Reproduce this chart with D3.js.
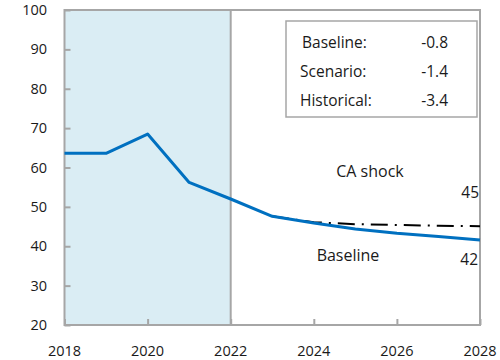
<!DOCTYPE html>
<html>
<head>
<meta charset="utf-8">
<script src="https://cdn.jsdelivr.net/npm/d3@7"></script>
<style>
  html, body { margin: 0; padding: 0; background: #fff; }
  svg { display: block; font-family: "Open Sans", "Noto Sans", sans-serif; }
</style>
</head>
<body>
<svg id="chart" width="500" height="360"></svg>
<script>
// Debt path: history through 2022, baseline projection after
const years = [2018, 2019, 2020, 2021, 2022, 2023, 2024, 2025, 2026, 2027, 2028];
const baseline = [63.6, 63.6, 68.5, 56.2, 52.0, 47.6, 45.9, 44.4, 43.3, 42.5, 41.6];
// Current-account shock scenario (projection years only)
const scenarioYears = [2023, 2024, 2025, 2026, 2027, 2028];
const scenario = [47.6, 46.1, 45.6, 45.4, 45.2, 45.1];
const yTicks = [20, 30, 40, 50, 60, 70, 80, 90, 100];
const xTicks = [2018, 2020, 2022, 2024, 2026, 2028];
const historyEnd = 2022;
const legendLabels = ["Baseline:", "Scenario:", "Historical:"];
const legendValues = ["-0.8", "-1.4", "-3.4"];

const svg = d3.select("#chart");
const m = { left: 64.5, right: 480, top: 10, bottom: 325 };

const x = d3.scaleLinear().domain([2018, 2028]).range([m.left, m.right]);
const y = d3.scaleLinear().domain([20, 100]).range([m.bottom, m.top]);

const grey = "#a6a6a6";
const ink = "#1a1a1a";

// Shaded historical period
svg.append("rect")
  .attr("x", x(2018)).attr("y", y(100))
  .attr("width", x(historyEnd) - x(2018))
  .attr("height", y(20) - y(100))
  .attr("fill", "#daedf4");

// Y axis: ticks pointing into the plot
const yAxis = d3.axisRight(y).tickValues(yTicks).tickSize(6).tickFormat("");
const gy = svg.append("g").attr("transform", `translate(${x(2018)},0)`).call(yAxis);
gy.selectAll("line").attr("stroke", grey).attr("stroke-width", 2);
gy.select(".domain").remove();

// X axis: ticks pointing up
const xAxis = d3.axisTop(x).tickValues(xTicks).tickSize(6).tickFormat("");
const gx = svg.append("g").attr("transform", `translate(0,${y(20)})`).call(xAxis);
gx.selectAll("line").attr("stroke", grey).attr("stroke-width", 2);
gx.select(".domain").remove();

// Frame: outer box plus the history divider
svg.append("rect")
  .attr("x", x(2018)).attr("y", y(100))
  .attr("width", x(2028) - x(2018)).attr("height", y(20) - y(100))
  .attr("fill", "none").attr("stroke", grey).attr("stroke-width", 2);
svg.append("line")
  .attr("x1", x(historyEnd)).attr("x2", x(historyEnd))
  .attr("y1", y(100)).attr("y2", y(20))
  .attr("stroke", grey).attr("stroke-width", 2);

// Tick labels
svg.append("g").selectAll("text").data(yTicks).join("text")
  .attr("x", 47).attr("y", d => y(d) + 5)
  .attr("text-anchor", "end")
  .attr("font-size", 14.5).attr("fill", ink)
  .text(d => d);
svg.append("g").selectAll("text").data(xTicks).join("text")
  .attr("x", d => x(d)).attr("y", 356)
  .attr("text-anchor", "middle")
  .attr("font-size", 14.5).attr("fill", ink)
  .text(d => d);

const line = d3.line().x(d => x(d[0])).y(d => y(d[1]));

// Scenario path (dash-dot), drawn under the baseline
svg.append("path")
  .datum(d3.zip(scenarioYears, scenario))
  .attr("d", line)
  .attr("fill", "none").attr("stroke", "#000").attr("stroke-width", 2)
  .attr("stroke-dasharray", "17,7,2,7");

// Baseline path
svg.append("path")
  .datum(d3.zip(years, baseline))
  .attr("d", line)
  .attr("fill", "none").attr("stroke", "#0070c0").attr("stroke-width", 3)
  .attr("stroke-linejoin", "round");

// Legend box with average changes
svg.append("rect")
  .attr("x", 286).attr("y", 21).attr("width", 191).attr("height", 96)
  .attr("fill", "#fff").attr("stroke", grey).attr("stroke-width", 1.5);
const lg = svg.append("g");
legendLabels.forEach((lab, i) => {
  lg.append("text").attr("x", i === 0 ? 302 : 300).attr("y", 48 + i * 29)
    .attr("font-size", 15.5).attr("fill", ink).text(lab);
  lg.append("text").attr("x", 448).attr("y", 48 + i * 29)
    .attr("text-anchor", "end")
    .attr("font-size", 15.5).attr("fill", ink).text(legendValues[i]);
});

// Series annotations
svg.append("text").attr("x", 370).attr("y", 177).attr("text-anchor", "middle")
  .attr("font-size", 16).attr("fill", ink).text("CA shock");
svg.append("text").attr("x", 479).attr("y", 198).attr("text-anchor", "end")
  .attr("font-size", 15.5).attr("fill", ink).text(d3.format(".0f")(scenario[scenario.length - 1]));
svg.append("text").attr("x", 348).attr("y", 261).attr("text-anchor", "middle")
  .attr("font-size", 16).attr("fill", ink).text("Baseline");
svg.append("text").attr("x", 478).attr("y", 265).attr("text-anchor", "end")
  .attr("font-size", 15.5).attr("fill", ink).text(d3.format(".0f")(baseline[baseline.length - 1]));
</script>
</body>
</html>
